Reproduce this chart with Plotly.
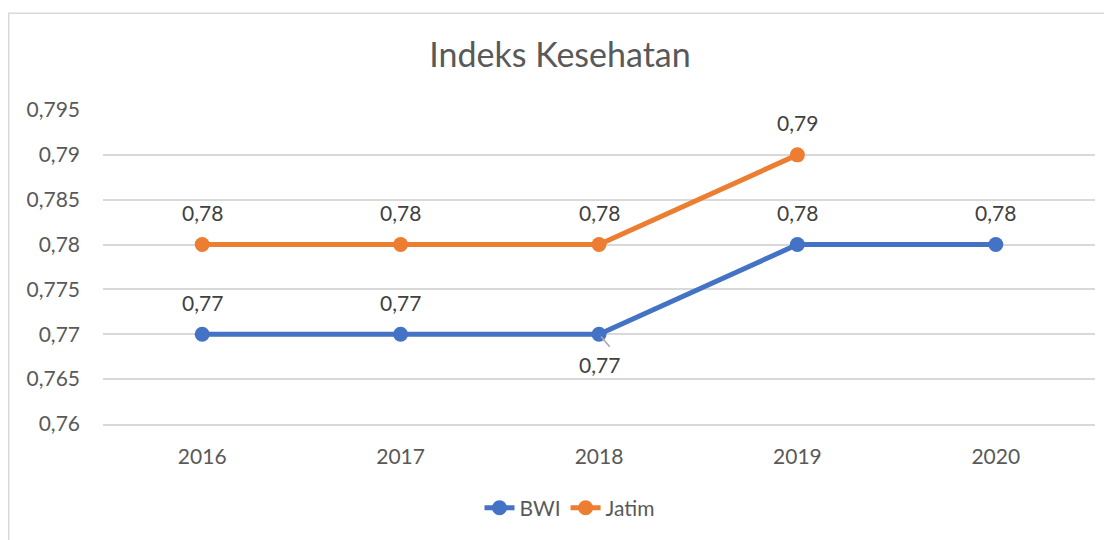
import plotly.graph_objects as go

years = ["2016", "2017", "2018", "2019", "2020"]
bwi = [0.77, 0.77, 0.77, 0.78, 0.78]
jatim = [0.78, 0.78, 0.78, 0.79, None]
bwi_label_pos = ["above", "above", "below", "above", "above"]
y_ticks = [0.76, 0.765, 0.77, 0.775, 0.78, 0.785, 0.79, 0.795]

BLUE = "#4472C4"
ORANGE = "#ED7D31"
TXT = "#595959"
LBL = "#404040"
FONT = "Lato, 'Open Sans', sans-serif"

# page body has an 8px margin; figure coords = screenshot coords - 8
W, H = 1104, 532
L, T = 95, 102
PR, PB = 1087, 423
R, B = W - PR, H - PB
pw = PR - L
ph = PB - T

fig = go.Figure()
fig.add_trace(go.Scatter(x=years, y=bwi, name="BWI", mode="lines+markers",
                         line=dict(color=BLUE, width=5),
                         marker=dict(size=15, color=BLUE)))
fig.add_trace(go.Scatter(x=years, y=jatim, name="Jatim", mode="lines+markers",
                         line=dict(color=ORANGE, width=5),
                         marker=dict(size=15, color=ORANGE)))

def fmt(v):
    return f"{v:.2f}".replace(".", ",")

lblfont = dict(size=21, color=LBL, family=FONT)
ann = []
for i, (v, pos) in enumerate(zip(bwi, bwi_label_pos)):
    if pos == "above":
        ann.append(dict(x=i, y=v, text=fmt(v), showarrow=False, yshift=32,
                        font=lblfont))
    else:
        ann.append(dict(x=i, y=v, text=fmt(v), showarrow=False, yshift=-30,
                        font=lblfont))
        ann.append(dict(x=i, y=v, text="", showarrow=True, arrowhead=0,
                        arrowwidth=1.5, arrowcolor="#A6A6A6", ax=12, ay=14,
                        standoff=3, startstandoff=0))
for i, v in enumerate(jatim):
    if v is None:
        continue
    ann.append(dict(x=i, y=v, text=fmt(v), showarrow=False, yshift=32,
                    font=lblfont))

fig.update_layout(
    width=W, height=H,
    margin=dict(l=L, r=R, t=T, b=B),
    paper_bgcolor="white", plot_bgcolor="white",
    separators=",.",
    font=dict(family=FONT, color=TXT, size=21),
    title=dict(text="Indeks Kesehatan", x=0.5, xanchor="center",
               y=1 - 47 / H, yref="container", yanchor="middle",
               font=dict(size=34, color=TXT, family=FONT)),
    showlegend=True,
    legend=dict(orientation="h", x=(570 - 8 - L) / pw, xanchor="center",
                y=-(509 - PB) / ph, yanchor="middle",
                font=dict(size=21, color=TXT, family=FONT),
                tracegroupgap=0),
    annotations=ann,
    shapes=[dict(type="rect", xref="paper", yref="paper",
                 x0=(0.75 - L) / pw, x1=(W + 20 - L) / pw,
                 y0=-(H + 20 - PB) / ph, y1=(PB - 3) / ph,
                 line=dict(color="#D9D9D9", width=1.5), layer="below")],
    xaxis=dict(type="category", range=[-0.5, 4.5], showgrid=False,
               showline=True, linecolor="#D9D9D9", linewidth=1.5,
               zeroline=False, ticks="", ticklabelstandoff=13,
               tickfont=dict(size=21, color=TXT, family=FONT)),
    yaxis=dict(range=[0.76, 0.795], tickvals=y_ticks,
               ticktext=[str(v).replace(".", ",") for v in y_ticks],
               showgrid=True, gridcolor="#D9D9D9", gridwidth=1.5,
               zeroline=False, showline=False, ticks="",
               ticklabelstandoff=22,
               tickfont=dict(size=21, color=TXT, family=FONT)),
)

fig.write_html("out.html")
